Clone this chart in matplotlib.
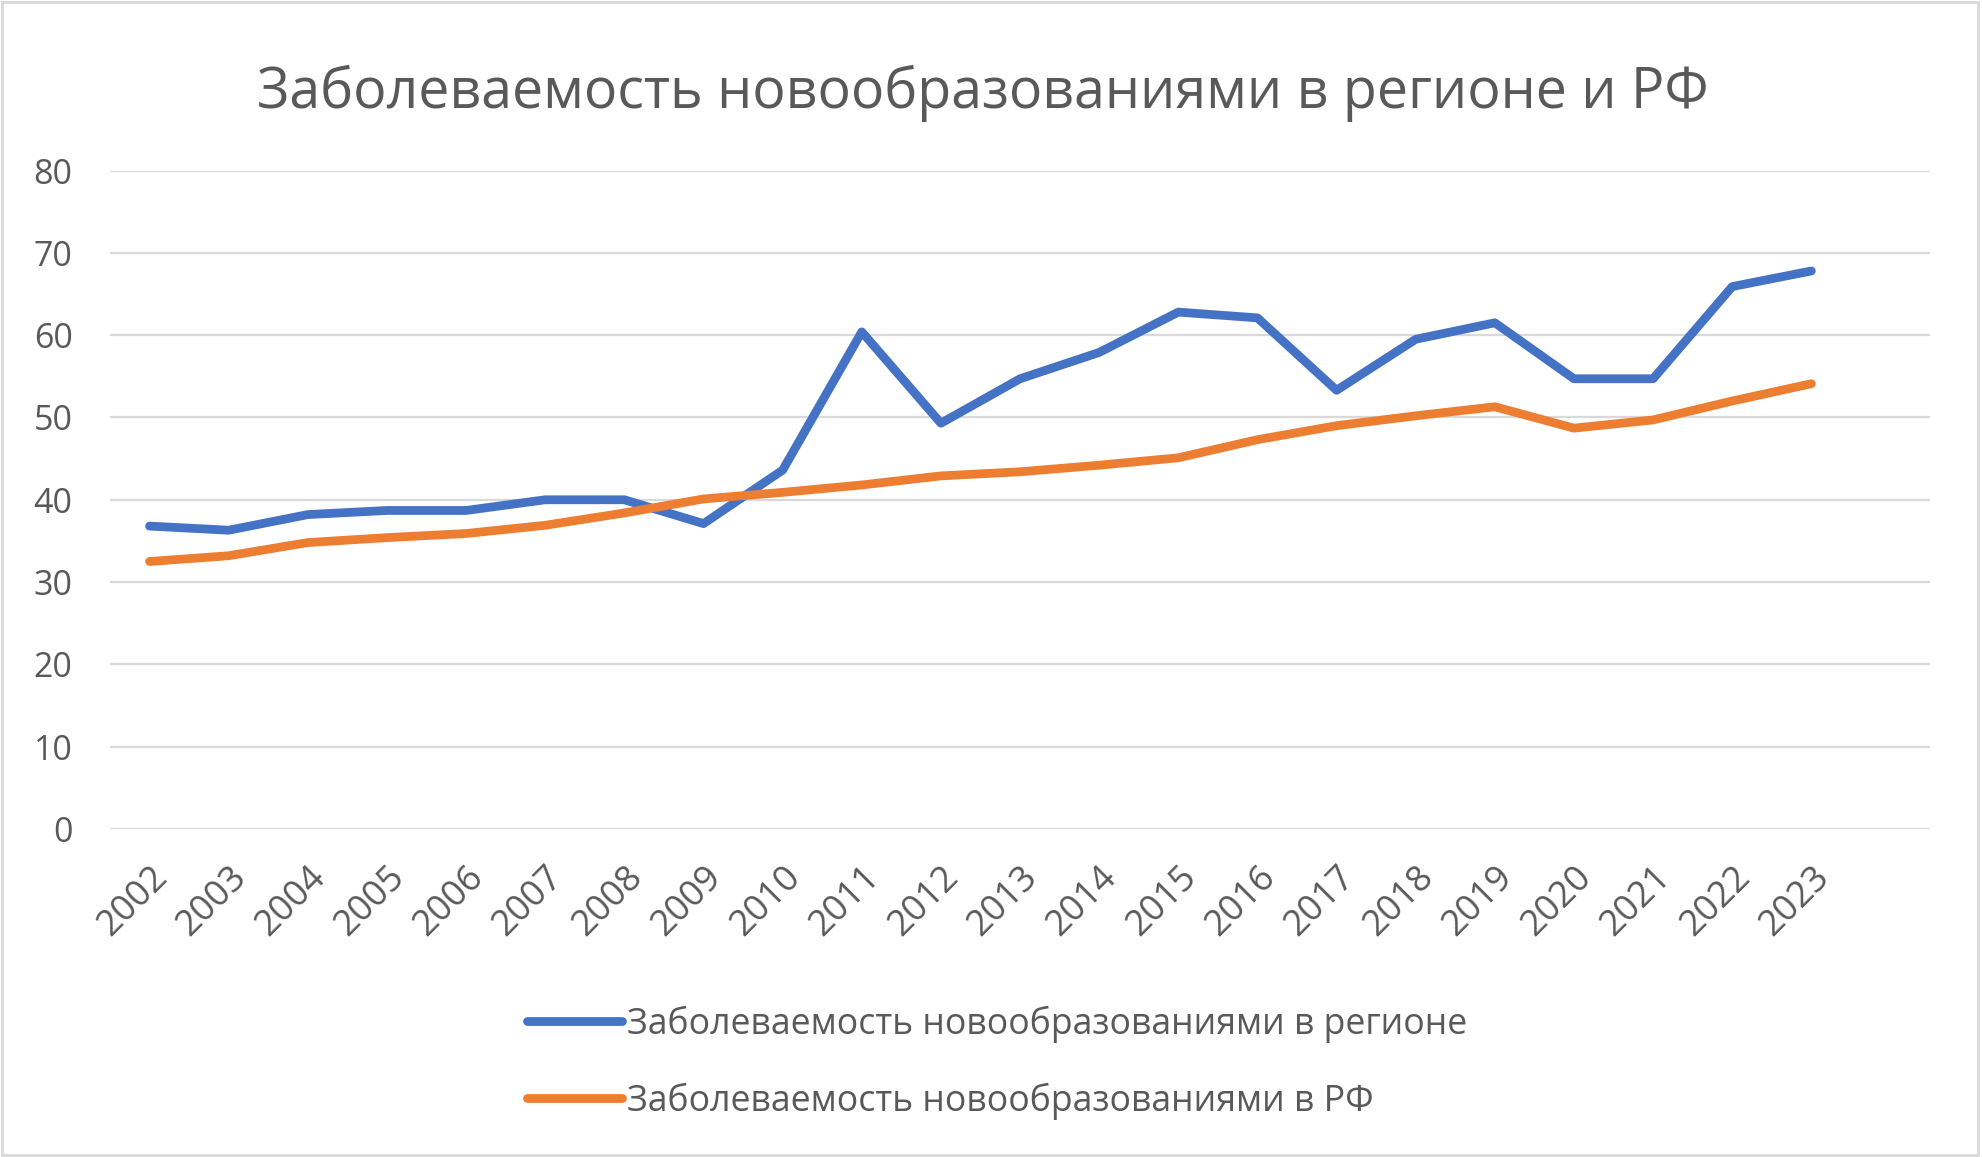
import matplotlib
matplotlib.use('Agg')
import matplotlib.pyplot as plt
from matplotlib.patches import Rectangle

plt.rcParams['font.family'] = ['Open Sans', 'DejaVu Sans']

years = [str(y) for y in range(2002, 2024)]
region = [36.8, 36.3, 38.2, 38.7, 38.7, 40.0, 40.0, 37.1, 43.6, 60.4, 49.3,
          54.7, 57.9, 62.8, 62.1, 53.3, 59.5, 61.5, 54.7, 54.7, 65.9, 67.8]
russia = [32.5, 33.2, 34.8, 35.4, 35.9, 36.9, 38.4, 40.1, 40.9, 41.8, 42.9,
          43.4, 44.2, 45.1, 47.3, 49.0, 50.2, 51.3, 48.7, 49.7, 52.0, 54.1]
label_region = 'Заболеваемость новообразованиями в регионе'
label_russia = 'Заболеваемость новообразованиями в РФ'
title = 'Заболеваемость новообразованиями в регионе и РФ'
yticks = [0, 10, 20, 30, 40, 50, 60, 70, 80]

text_color = '#595959'
grid_color = '#D9D9D9'

fig = plt.figure(figsize=(19.82, 11.57), dpi=100)
ax = fig.add_axes([0.0555, 0.2835, 0.9183, 0.5691])

x = list(range(len(years)))
ax.plot(x, region, color='#4472C4', lw=6.3, solid_capstyle='round',
        solid_joinstyle='round', label=label_region, zorder=3)
ax.plot(x, russia, color='#ED7D31', lw=6.3, solid_capstyle='round',
        solid_joinstyle='round', label=label_russia, zorder=3)

# one empty slot after the last year, as in the original chart
ax.set_xlim(-0.5, len(years) + 0.5)
ax.set_ylim(0, 80)
ax.set_yticks(yticks)
ax.set_yticklabels([str(v) for v in yticks])
ax.yaxis.grid(True, color=grid_color, lw=1.6)
ax.set_axisbelow(True)
for s in ax.spines.values():
    s.set_visible(False)
ax.tick_params(axis='y', length=0, pad=27, labelsize=24.5, labelcolor=text_color)
ax.tick_params(axis='x', length=0, pad=22, labelsize=26, labelcolor=text_color)
ax.set_xticks(x)
ax.set_xticklabels(years, rotation=45, ha='right', va='top', rotation_mode='anchor')

fig.text(0.496, 0.919, title, ha='center', va='center', fontsize=40, color=text_color)

fig.legend(loc='upper left', bbox_to_anchor=(0.266, 0.131), frameon=False,
           fontsize=25.7, handlelength=2.66, handletextpad=0.14, labelspacing=1.12,
           labelcolor=text_color, borderaxespad=0, borderpad=0)

fig.patches.append(Rectangle((0.001, 0.002), 0.997, 0.996, transform=fig.transFigure,
                             fill=False, edgecolor='#D9D9D9', lw=2))

fig.savefig('out.png', dpi=100, facecolor='white')
